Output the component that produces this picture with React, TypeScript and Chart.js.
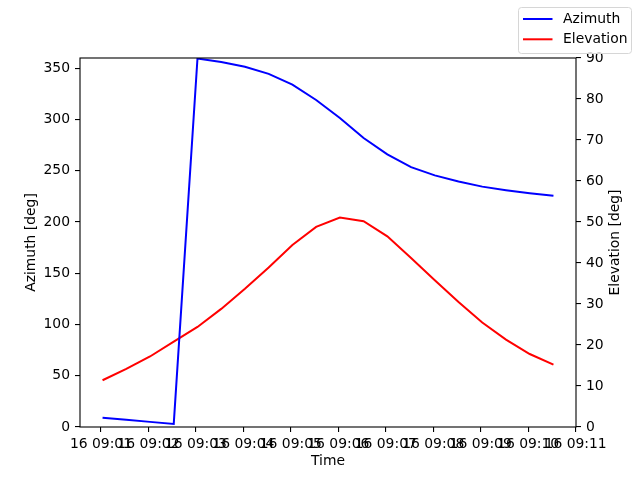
import React, { useEffect, useRef } from "react";
import { Chart, registerables, Plugin } from "chart.js";

Chart.register(...registerables);

// sample times (30 s apart) on day 16
const times = [
  "09:01:02", "09:01:32", "09:02:02", "09:02:32", "09:03:02",
  "09:03:32", "09:04:02", "09:04:32", "09:05:02", "09:05:32",
  "09:06:02", "09:06:32", "09:07:02", "09:07:32", "09:08:02",
  "09:08:32", "09:09:02", "09:09:32", "09:10:02", "09:10:32",
];
const azimuth = [
  9, 7, 5, 3, 359.5, 356, 351.5, 344.5, 334, 319,
  301.5, 282, 266, 253.5, 245.5, 239.5, 234.5, 231, 228, 225.5,
];
const elevation = [
  11.4, 14.2, 17.2, 20.8, 24.4, 28.8, 33.7, 38.9, 44.4, 48.8,
  51.1, 50.2, 46.5, 41.2, 35.8, 30.5, 25.5, 21.3, 17.8, 15.2,
];
const dayLabel = "16";
const timeTicks = [
  "09:01", "09:02", "09:03", "09:04", "09:05", "09:06",
  "09:07", "09:08", "09:09", "09:10", "09:11",
];
const azimuthTicks = [0, 50, 100, 150, 200, 250, 300, 350];
const elevationTicks = [0, 10, 20, 30, 40, 50, 60, 70, 80, 90];

const toSec = (t: string) => {
  const [h, m, s = "0"] = t.split(":");
  return +h * 3600 + +m * 60 + +s;
};
const fmt = (v: number) => {
  const h = Math.floor(v / 3600);
  const m = Math.round((v - h * 3600) / 60);
  return `${String(h).padStart(2, "0")}:${String(m).padStart(2, "0")}`;
};

const FONT = { family: "'DejaVu Sans', sans-serif", size: 13.9 };

// box around the axes, like matplotlib spines
const framePlugin: Plugin = {
  id: "frame",
  afterDatasetsDraw(chart) {
    const { ctx, chartArea: a } = chart;
    ctx.save();
    ctx.strokeStyle = "#000";
    ctx.lineWidth = 1.1;
    ctx.strokeRect(a.left, a.top, a.right - a.left, a.bottom - a.top);
    ctx.restore();
  },
};

// figure legend in the upper right corner
const legendPlugin: Plugin = {
  id: "figLegend",
  afterDraw(chart) {
    const { ctx } = chart;
    const x = 518.5, y = 7.5, w = 113, h = 46;
    ctx.save();
    ctx.beginPath();
    ctx.roundRect(x, y, w, h, 3);
    ctx.fillStyle = "rgba(255,255,255,0.8)";
    ctx.fill();
    ctx.strokeStyle = "#d6d6d6";
    ctx.lineWidth = 1;
    ctx.stroke();
    ctx.font = `${FONT.size}px ${FONT.family}`;
    ctx.textBaseline = "middle";
    chart.data.datasets.forEach((ds, i) => {
      const ry = 19 + i * 20.3;
      ctx.strokeStyle = ds.borderColor as string;
      ctx.lineWidth = 2;
      ctx.beginPath();
      ctx.moveTo(523, ry);
      ctx.lineTo(552.5, ry);
      ctx.stroke();
      ctx.fillStyle = "#000";
      ctx.fillText(ds.label as string, 563, ry);
    });
    ctx.restore();
  },
};

// right axis title reads bottom to top, as in matplotlib
const rightTitlePlugin: Plugin = {
  id: "rightTitle",
  afterDraw(chart) {
    const { ctx, chartArea: a } = chart;
    ctx.save();
    ctx.translate(615.5, (a.top + a.bottom) / 2);
    ctx.rotate(-Math.PI / 2);
    ctx.font = `${FONT.size}px ${FONT.family}`;
    ctx.fillStyle = "#000";
    ctx.textAlign = "center";
    ctx.textBaseline = "middle";
    ctx.fillText("Elevation [deg]", 0, 0);
    ctx.restore();
  },
};

const App: React.FC = () => {
  const canvasRef = useRef<HTMLCanvasElement>(null);
  const chartRef = useRef<Chart | null>(null);

  useEffect(() => {
    if (!canvasRef.current) return;
    document.body.style.margin = "0";
    if (chartRef.current) chartRef.current.destroy();

    const xs = times.map(toSec);
    const span = xs[xs.length - 1] - xs[0];
    const xMin = xs[0] - 0.05 * span;
    const xMax = xs[xs.length - 1] + 0.05 * span;

    const tickGrid = {
      drawOnChartArea: false,
      drawTicks: true,
      tickLength: 5,
      color: "#000",
      lineWidth: 1.1,
    };

    chartRef.current = new Chart(canvasRef.current, {
      type: "line",
      data: {
        datasets: [
          {
            label: "Azimuth",
            data: xs.map((x, i) => ({ x, y: azimuth[i] })),
            borderColor: "#0000ff",
            backgroundColor: "#0000ff",
            borderWidth: 2,
            pointRadius: 0,
            tension: 0,
            yAxisID: "y",
          },
          {
            label: "Elevation",
            data: xs.map((x, i) => ({ x, y: elevation[i] })),
            borderColor: "#ff0000",
            backgroundColor: "#ff0000",
            borderWidth: 2,
            pointRadius: 0,
            tension: 0,
            yAxisID: "y1",
          },
        ],
      },
      options: {
        animation: false,
        responsive: false,
        maintainAspectRatio: false,
        layout: { padding: { top: 58, left: 0, right: 0, bottom: 0 } },
        plugins: {
          legend: { display: false },
          tooltip: { enabled: false },
        },
        scales: {
          x: {
            type: "linear",
            min: xMin,
            max: xMax,
            afterBuildTicks: (s: any) => {
              s.ticks = timeTicks.map((t) => ({ value: toSec(t) }));
            },
            afterFit: (s: any) => {
              s.height = 53;
            },
            ticks: {
              autoSkip: false,
              maxRotation: 0,
              minRotation: 0,
              color: "#000",
              font: FONT,
              padding: 4,
              callback: (v: any) => `${dayLabel} ${fmt(Number(v))}`,
            },
            grid: tickGrid,
            border: { display: false },
            title: {
              display: true,
              text: "Time",
              color: "#000",
              font: FONT,
              padding: { top: 0, bottom: 10 },
            },
          },
          y: {
            type: "linear",
            position: "left",
            min: 0,
            max: 360,
            afterBuildTicks: (s: any) => {
              s.ticks = azimuthTicks.map((v) => ({ value: v }));
            },
            afterFit: (s: any) => {
              s.width = 80;
            },
            ticks: { color: "#000", font: FONT, padding: 5 },
            grid: tickGrid,
            border: { display: false },
            title: {
              display: true,
              text: "Azimuth [deg]",
              color: "#000",
              font: FONT,
              padding: { top: 23, bottom: 0 },
            },
          },
          y1: {
            type: "linear",
            position: "right",
            min: 0,
            max: 90,
            afterBuildTicks: (s: any) => {
              s.ticks = elevationTicks.map((v) => ({ value: v }));
            },
            afterFit: (s: any) => {
              s.width = 64;
            },
            ticks: { color: "#000", font: FONT, padding: 5 },
            grid: tickGrid,
            border: { display: false },
          },
        },
      },
      plugins: [framePlugin, legendPlugin, rightTitlePlugin],
    });

    return () => {
      if (chartRef.current) {
        chartRef.current.destroy();
        chartRef.current = null;
      }
    };
  }, []);

  return (
    <div style={{ width: 640, height: 480, background: "#fff" }}>
      <canvas ref={canvasRef} width={640} height={480} />
    </div>
  );
};

export default App;
